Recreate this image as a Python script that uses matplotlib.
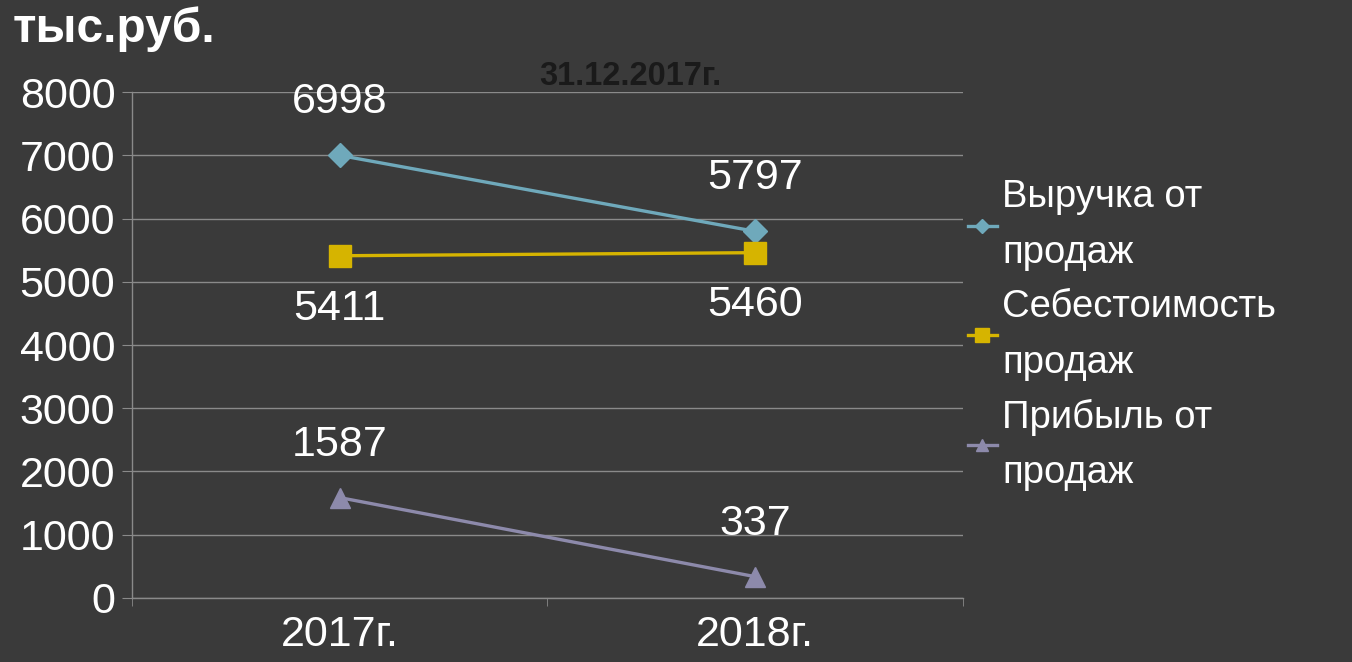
import matplotlib
matplotlib.use("Agg")
import matplotlib.pyplot as plt

categories = ["2017г.", "2018г."]
revenue = [6998, 5797]
cost = [5411, 5460]
profit = [1587, 337]
series_names = ["Выручка от\nпродаж", "Себестоимость\nпродаж", "Прибыль от\nпродаж"]
yticks = [0, 1000, 2000, 3000, 4000, 5000, 6000, 7000, 8000]

plt.rcParams['font.family'] = ['Liberation Sans', 'DejaVu Sans']
BG = '#3a3a3a'
fig = plt.figure(figsize=(13.52, 6.62), dpi=100, facecolor=BG)
ax = fig.add_axes([0.0976, 0.0967, 0.6147, 0.7643], facecolor=BG)

x = [0.5, 1.5]
c_rev, c_cost, c_prof = '#6fa9bb', '#d6b400', '#8d8aab'
l1, = ax.plot(x, revenue, color=c_rev, lw=2.4, marker='D', ms=12, label=series_names[0], zorder=3)
l2, = ax.plot(x, cost, color=c_cost, lw=2.4, marker='s', ms=16, label=series_names[1], zorder=3)
l3, = ax.plot(x, profit, color=c_prof, lw=2.4, marker='^', ms=14, label=series_names[2], zorder=3)

def lab(vals, dy):
    for xi, v in zip(x, vals):
        ax.annotate(str(v), (xi, v), xytext=(0, dy), textcoords='offset points',
                    ha='center', va='center', color='white', fontsize=31)
lab(revenue, 38.5)
lab(cost, -38)
lab(profit, 38)

ax.set_xlim(0, 2)
ax.set_ylim(0, 8000)
ax.set_yticks(yticks)
ax.set_yticklabels([str(t) for t in yticks])
ax.set_xticks([0.5, 1.5])
ax.set_xticklabels(categories)
ax.set_xticks([0, 1, 2], minor=True)
ax.tick_params(axis='x', which='major', length=0, pad=12, labelsize=31, colors='white')
ax.tick_params(axis='x', which='minor', length=6, color='#8a8a8a', direction='out')
ax.tick_params(axis='y', length=7, pad=5, labelsize=31, colors='white', color='#8a8a8a')
ax.grid(axis='y', color='#8a8a8a', lw=1)
for s in ['top', 'right']:
    ax.spines[s].set_visible(False)
for s in ['left', 'bottom']:
    ax.spines[s].set_color('#8a8a8a')
    ax.spines[s].set_linewidth(1)

leg = fig.legend(handles=[l1, l2, l3], loc='center left', bbox_to_anchor=(0.716, 0.4935),
                 frameon=False, fontsize=27.5, labelspacing=0.47, handlelength=0.75,
                 handletextpad=0.15, markerscale=0.6, borderaxespad=0, borderpad=0)
for t in leg.get_texts():
    t.set_color('white')
    t.set_linespacing(1.7)

fig.text(0.009, 0.9366, "тыс.руб.", color='white', fontsize=34.5, fontweight='bold',
         va='baseline', ha='left')
fig.text(0.4665, 0.8716, "31.12.2017г.", color='#1a1a1a', fontsize=23.5, fontweight='bold',
         va='baseline', ha='center')

fig.savefig("out.png", dpi=100, facecolor=BG)
